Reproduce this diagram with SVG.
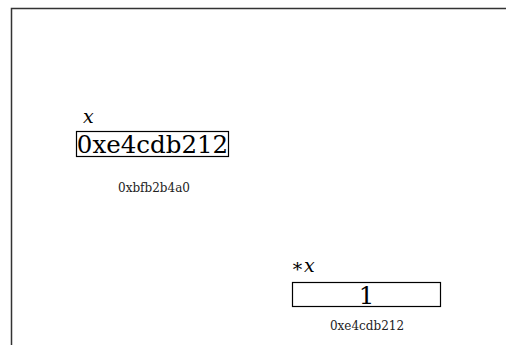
<svg xmlns="http://www.w3.org/2000/svg" width="506" height="345" viewBox="0 0 506 345">
  <style>
    .frame { fill: none; stroke: #333; stroke-width: 1.5; }
    .cell { fill: #fff; stroke: #000; stroke-width: 1.2; }
    .val { font-family: "DejaVu Serif", serif; font-size: 24.5px; fill: #000; text-anchor: middle; }
    .name { font-family: "DejaVu Serif", serif; font-style: italic; font-size: 19px; fill: #000; }
    .addr { font-family: "DejaVu Serif", serif; font-size: 12px; fill: #222; text-anchor: middle; }
  </style>
  <rect width="506" height="345" fill="#fff"/>
  <path class="frame" d="M11.5,346 V8.5 H507"/>
  <g id="var-x">
    <text class="name" x="83" y="123">x</text>
    <rect class="cell" x="76.5" y="131.5" width="152" height="25"/>
    <text class="val" x="152.5" y="153">0xe4cdb212</text>
    <text class="addr" x="154" y="192">0xbfb2b4a0</text>
  </g>
  <g id="var-deref-x">
    <text class="name" x="291" y="272"><tspan font-style="normal">∗</tspan>x</text>
    <rect class="cell" x="292.5" y="282.5" width="148" height="24"/>
    <text class="val" x="366.5" y="304">1</text>
    <text class="addr" x="367" y="330">0xe4cdb212</text>
  </g>
  <g id="connectors"></g>
</svg>
